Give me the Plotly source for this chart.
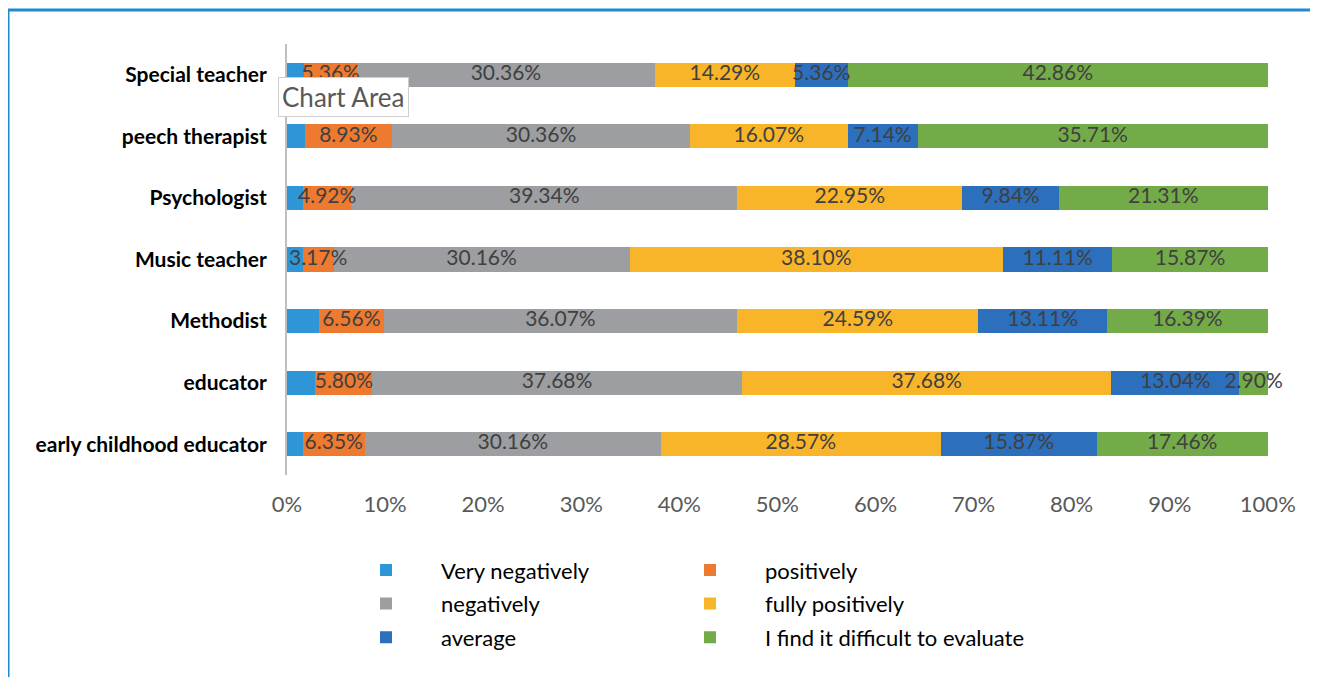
import plotly.graph_objects as go

# categories top to bottom
groups = ["Special teacher", "peech therapist", "Psychologist", "Music teacher",
          "Methodist", "educator", "early childhood educator"]

very_negatively = [1.78, 1.79, 1.64, 1.59, 3.28, 2.90, 1.59]
positively = [5.36, 8.93, 4.92, 3.17, 6.56, 5.80, 6.35]
negatively = [30.36, 30.36, 39.34, 30.16, 36.07, 37.68, 30.16]
fully_positively = [14.29, 16.07, 22.95, 38.10, 24.59, 37.68, 28.57]
average = [5.36, 7.14, 9.84, 11.11, 13.11, 13.04, 15.87]
difficult = [42.86, 35.71, 21.31, 15.87, 16.39, 2.90, 17.46]

tick_vals = [0, 10, 20, 30, 40, 50, 60, 70, 80, 90, 100]
tick_text = [f"{v}%" for v in tick_vals]

series = [
    ("Very negatively", very_negatively, "#2e95d6", False, "legend"),
    ("negatively", negatively, "#9c9ea1", True, "legend"),
    ("average", average, "#2b6fbd", True, "legend"),
    ("positively", positively, "#ee7a30", True, "legend2"),
    ("fully positively", fully_positively, "#f9b52a", True, "legend2"),
    ("I find it difficult to evaluate", difficult, "#73ab48", True, "legend2"),
]
# stacking order left to right
stack_order = ["Very negatively", "positively", "negatively", "fully positively",
               "average", "I find it difficult to evaluate"]

FONT = "Lato, 'Open Sans', sans-serif"

# the page body adds an 8px offset, so the figure is 8px smaller and margins shifted
W, H = 1310, 669
L, T = 279, 36
PW = 981
PH = 431

fig = go.Figure()
lookup = {s[0]: s for s in series}
names = [s[0] for s in series]
base = [0.0] * len(groups)
lab_x, lab_y, lab_t = [], [], []
for name in stack_order:
    _, vals, color, labelled, leg = lookup[name]
    fig.add_trace(go.Bar(
        y=groups, x=vals, orientation="h", name=name,
        marker=dict(color=color, line=dict(width=0)),
        legend=leg, legendgroup=name,
        legendrank=names.index(name),
        hoverinfo="skip",
    ))
    if labelled:
        # labels drawn above all bars so overflowing text stays visible
        for g, b, v in zip(groups, base, vals):
            lab_x.append(b + v / 2)
            lab_y.append(g)
            lab_t.append(f"{v:.2f}%")
    base = [b + v for b, v in zip(base, vals)]

fig.add_trace(go.Scatter(
    x=lab_x, y=lab_y, text=lab_t, mode="text", textposition="middle center",
    textfont=dict(family=FONT, size=21, color="#404040"),
    cliponaxis=False, showlegend=False, hoverinfo="skip",
))

fig.update_layout(
    width=W, height=H,
    barmode="stack", bargap=0.61,
    plot_bgcolor="white", paper_bgcolor="white",
    margin=dict(l=L, r=W - L - PW, t=T, b=H - T - PH),
    font=dict(family=FONT, color="#000000"),
    xaxis=dict(range=[0, 100.02], tickvals=tick_vals, ticktext=tick_text,
               showgrid=False, zeroline=False, showline=False,
               tickfont=dict(size=22, color="#595959"), ticks="", ticklabelstandoff=14),
    yaxis=dict(autorange="reversed", showline=True, linecolor="#bfbfbf", linewidth=2,
               ticks="", ticklabelstandoff=14,
               tickfont=dict(size=21, color="#000000", weight="bold")),
    legend=dict(x=(331 - 287) / PW, y=-0.172, xanchor="left", yanchor="top",
                orientation="v", font=dict(size=22, color="#000000"),
                tracegroupgap=2, itemwidth=100, bgcolor="rgba(0,0,0,0)"),
    legend2=dict(x=(655 - 287) / PW, y=-0.172, xanchor="left", yanchor="top",
                 orientation="v", font=dict(size=22, color="#000000"),
                 tracegroupgap=2, itemwidth=100, bgcolor="rgba(0,0,0,0)"),
    showlegend=True,
)

# outer frame of the chart area
fig.add_shape(type="rect", xref="paper", yref="paper",
              x0=(8 - 287) / PW, x1=(1316 - 287) / PW,
              y0=-0.6, y1=(475 - 10) / PH,
              line=dict(color="#1e8ad2", width=3), fillcolor="rgba(0,0,0,0)", layer="below")

# "Chart Area" tooltip visible in the screenshot
fig.add_annotation(text="Chart Area", xref="paper", yref="paper",
                   x=(278 - 287) / PW, y=(475 - 77) / PH, xanchor="left", yanchor="top",
                   showarrow=False, font=dict(size=26, color="#595959", family=FONT),
                   bgcolor="white", bordercolor="#cfcfcf", borderwidth=1, borderpad=3)

fig.write_html("out.html")
